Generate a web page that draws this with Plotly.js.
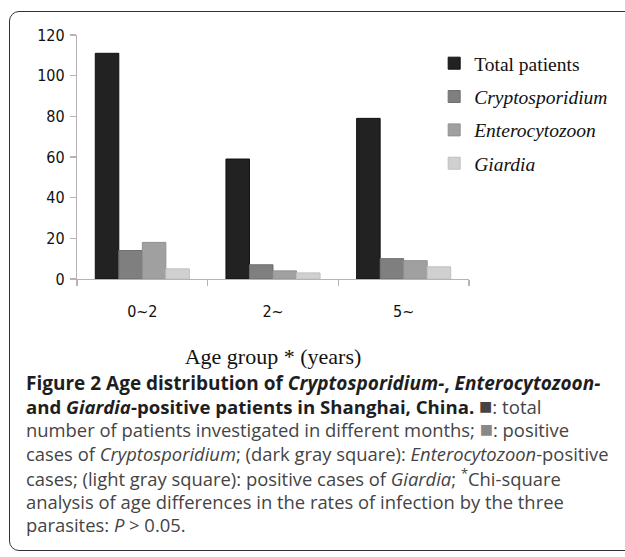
<!DOCTYPE html>
<html>
<head>
<meta charset="utf-8">
<script src="https://cdn.plot.ly/plotly-3.0.1.min.js"></script>
<style>
  html, body { margin: 0; padding: 0; background: #ffffff; }
  #wrap { position: relative; width: 625px; height: 557px; overflow: hidden; }
  #frame { position: absolute; left: 9px; top: 11px; width: 700px; height: 538px;
           border: 1.5px solid #333333; border-radius: 10px; }
  #chart { position: absolute; left: 0; top: 0; width: 625px; height: 557px; }
</style>
</head>
<body>
<div id="wrap">
  <div id="frame"></div>
  <div id="chart"></div>
</div>
<script>
// ---- data ----
const categories = ['0~2', '2~', '5~'];
const seriesNames = ['Total patients', '<i>Cryptosporidium</i>', '<i>Enterocytozoon</i>', '<i>Giardia</i>'];
const totalPatients = [111, 59, 79];
const cryptosporidium = [14, 7, 10];
const enterocytozoon = [18, 4, 9];
const giardia = [5, 3, 6];
const yTicks = [0, 20, 40, 60, 80, 100, 120];
const xTitle = 'Age group * (years)';
const captionLines = [
  '<span style="color:#1e1e1e"><b>Figure 2 Age distribution of <i>Cryptosporidium-</i>, <i>Enterocytozoon-</i></b></span>',
  '<span style="color:#1e1e1e"><b>and <i>Giardia</i>-positive patients in Shanghai, China.</b></span> <span style="color:#444444;font-size:22px">■</span>: total',
  'number of patients investigated in different months; <span style="color:#888888;font-size:22px">■</span>: positive',
  'cases of <i>Cryptosporidium</i>; (dark gray square): <i>Enterocytozoon</i>-positive',
  'cases; (light gray square): positive cases of <i>Giardia</i>; <sup>*</sup>Chi-square',
  'analysis of age differences in the rates of infection by the three',
  'parasites: <i>P</i> > 0.05.'
];

// ---- styles ----
const colors = ['#222222', '#7f7f7f', '#a0a0a0', '#d0d0d0'];
const outlines = ['#111111', '#6f6f6f', '#909090', '#c0c0c0'];
const seriesValues = [totalPatients, cryptosporidium, enterocytozoon, giardia];
const SERIF = 'Liberation Serif, Times New Roman, serif';
const SANS = 'DejaVu Sans Condensed, DejaVu Sans, sans-serif';
const captionSizes = [19, 18.6, 18.4, 18.4, 18.4, 18.4, 18.4];
const captionShift = [0, 2, 2, 0, 0, 0, 0];

const W = 625, H = 557;
const ML = 77, MR = 154, MT = 35, MB = 278;
const PW = W - ML - MR, PH = H - MT - MB;
const px2x = px => (px - ML) / PW;
const py2y = py => (H - MB - py) / PH;

const traces = seriesValues.map((vals, i) => ({
  type: 'bar',
  name: seriesNames[i],
  x: categories,
  y: vals,
  legendgroup: 'g' + i,
  marker: { color: colors[i], line: { color: outlines[i], width: 1 } },
  hoverinfo: 'skip'
}));

const annotations = captionLines.map((t, i) => ({
  text: t,
  xref: 'paper', yref: 'paper',
  x: px2x(24), y: py2y(383 + i * 23.6),
  yshift: captionShift[i],
  xanchor: 'left', yanchor: 'middle',
  align: 'left', showarrow: false,
  font: { family: 'Open Sans, sans-serif', size: captionSizes[i], color: '#444444' }
}));

const layout = {
  width: W, height: H,
  margin: { l: ML, r: MR, t: MT, b: MB, pad: 0 },
  paper_bgcolor: 'rgba(0,0,0,0)',
  plot_bgcolor: 'rgba(0,0,0,0)',
  barmode: 'group',
  bargap: 0.28,
  bargroupgap: 0,
  showlegend: true,
  legend: {
    x: px2x(436), y: py2y(44), xanchor: 'left', yanchor: 'top',
    font: { family: SERIF, size: 19.5, color: '#111111' },
    tracegroupgap: 5,
    itemwidth: 30,
    bgcolor: 'rgba(0,0,0,0)'
  },
  xaxis: {
    type: 'category',
    showline: true, linecolor: '#b4b4b4', linewidth: 1.2,
    ticks: 'outside', tickson: 'boundaries', ticklen: 6, tickcolor: '#b4b4b4', tickwidth: 1.2,
    ticklabelstandoff: 18,
    tickfont: { family: SANS, size: 16, color: '#111111' },
    showgrid: false, zeroline: false,
    title: { text: xTitle, standoff: 28,
      font: { family: SERIF, size: 22, color: '#111111' } }
  },
  yaxis: {
    range: [0, 120],
    tickvals: yTicks,
    ticktext: yTicks.map(String),
    showline: true, linecolor: '#b4b4b4', linewidth: 1.2,
    ticks: 'outside', ticklen: 6, tickcolor: '#b4b4b4', tickwidth: 1.2,
    ticklabelstandoff: 2,
    tickfont: { family: SANS, size: 16, color: '#111111' },
    showgrid: false, zeroline: false
  },
  annotations: annotations
};

Plotly.newPlot('chart', traces, layout, { staticPlot: true, displayModeBar: false });
</script>
</body>
</html>
